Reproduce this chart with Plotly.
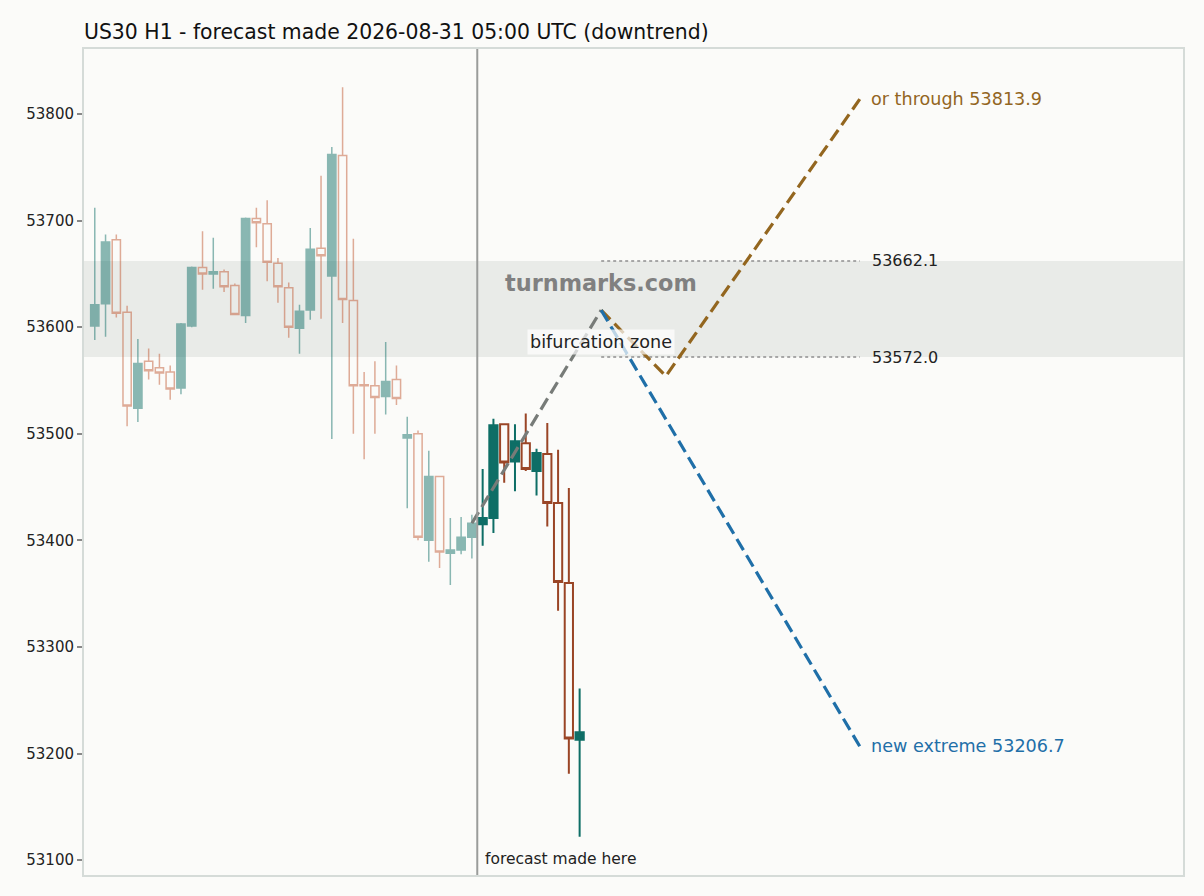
import plotly.graph_objects as go

# hourly candles, index 0..35 = history before the forecast, 36..45 = after
opens = [53601, 53622, 53682, 53614, 53524, 53568, 53562, 53558, 53543, 53601,
         53656, 53650, 53652, 53639, 53611, 53702, 53697, 53660, 53637, 53599,
         53616, 53674, 53648, 53761, 53625, 53546, 53545, 53535, 53551, 53496,
         53500, 53400, 53460, 53388, 53391, 53403,
         53415, 53421, 53509, 53474, 53491, 53465, 53481, 53435, 53360, 53213]
highs = [53712, 53687, 53687, 53620, 53589, 53580, 53575, 53564, 53604, 53657,
         53690, 53684, 53654, 53641, 53703, 53712, 53719, 53665, 53642, 53621,
         53693, 53742, 53769, 53825, 53683, 53558, 53568, 53586, 53564, 53516,
         53503, 53484, 53460, 53421, 53422, 53424,
         53467, 53514, 53509, 53509, 53519, 53486, 53510, 53485, 53449, 53261]
lows = [53588, 53591, 53609, 53507, 53511, 53551, 53546, 53532, 53537, 53600,
        53635, 53636, 53633, 53612, 53604, 53675, 53643, 53623, 53590, 53575,
        53607, 53608, 53495, 53604, 53500, 53476, 53500, 53518, 53527, 53430,
        53400, 53380, 53374, 53358, 53387, 53383,
        53395, 53407, 53454, 53446, 53465, 53442, 53413, 53334, 53181, 53122]
closes = [53621, 53680, 53613, 53526, 53566, 53559, 53557, 53542, 53603, 53656,
          53650, 53652, 53638, 53612, 53702, 53698, 53661, 53638, 53600, 53615,
          53673, 53667, 53762, 53626, 53545, 53545, 53534, 53549, 53533, 53499,
          53403, 53460, 53389, 53391, 53403, 53416,
          53421, 53508, 53473, 53493, 53467, 53482, 53435, 53361, 53214, 53220]
n_hist = 36
forecast_at = 35.5

# forecast path
path_x = [35, 47]
path_y = [53416, 53616]
up_x = [47, 53, 71]
up_y = [53616, 53554, 53813.9]
down_x = [47, 71]
down_y = [53616, 53206.7]
zone_lo = 53572.0
zone_hi = 53662.1

teal = "#0e6e66"
rust = "#9a4526"
bg = "#fbfbf9"
brown = "#93661f"
blue = "#1f6fa8"

idx = list(range(len(opens)))

fig = go.Figure()

# history candles (faded)
fig.add_trace(go.Candlestick(
    x=idx[:n_hist], open=opens[:n_hist], high=highs[:n_hist],
    low=lows[:n_hist], close=closes[:n_hist],
    increasing=dict(line=dict(color=teal, width=1.5), fillcolor=teal),
    decreasing=dict(line=dict(color="#c0552e", width=1.5), fillcolor="rgba(0,0,0,0)"),
    opacity=0.48, showlegend=False, hoverinfo="skip",
))
# candles after the forecast
fig.add_trace(go.Candlestick(
    x=idx[n_hist:], open=opens[n_hist:], high=highs[n_hist:],
    low=lows[n_hist:], close=closes[n_hist:],
    increasing=dict(line=dict(color=teal, width=2), fillcolor=teal),
    decreasing=dict(line=dict(color=rust, width=2), fillcolor="rgba(0,0,0,0)"),
    showlegend=False, hoverinfo="skip",
))

# dotted zone edges
for lvl in [zone_hi, zone_lo]:
    fig.add_trace(go.Scatter(x=[47, 71], y=[lvl, lvl], mode="lines",
                             line=dict(color="#8f8f8f", width=1.5, dash="dot"),
                             showlegend=False, hoverinfo="skip"))

dash = "13px,6px"
fig.add_trace(go.Scatter(x=path_x, y=path_y, mode="lines",
                         line=dict(color="#777b78", width=3.2, dash=dash),
                         showlegend=False, hoverinfo="skip"))
fig.add_trace(go.Scatter(x=up_x, y=up_y, mode="lines",
                         line=dict(color=brown, width=3.2, dash=dash),
                         showlegend=False, hoverinfo="skip"))
fig.add_trace(go.Scatter(x=down_x, y=down_y, mode="lines",
                         line=dict(color=blue, width=3.2, dash=dash),
                         showlegend=False, hoverinfo="skip"))

# shaded bifurcation band
fig.add_shape(type="rect", xref="paper", x0=0, x1=1, y0=zone_lo, y1=zone_hi,
              fillcolor="#e9ebe8", line=dict(width=0), layer="below")
# forecast time marker
fig.add_shape(type="line", x0=forecast_at, x1=forecast_at, yref="paper", y0=0, y1=1,
              line=dict(color="#9a9c9a", width=2))

fig.add_annotation(x=forecast_at, y=0, yref="paper", text="forecast made here",
                   showarrow=False, xanchor="left", yanchor="bottom", xshift=6, yshift=5,
                   font=dict(size=15.5, color="#222222"))
fig.add_annotation(x=47, y=53641, text="<b>turnmarks.com</b>", showarrow=False,
                   font=dict(size=22.4, color="#808080"))
fig.add_annotation(x=47, y=53586, text="bifurcation zone", showarrow=False,
                   bgcolor="rgba(255,255,255,0.7)", borderpad=2,
                   font=dict(size=17.6, color="#222222"))
fig.add_annotation(x=71, y=zone_hi, text=f"{zone_hi:.1f}", showarrow=False,
                   xanchor="left", xshift=10, font=dict(size=16, color="#222222"))
fig.add_annotation(x=71, y=zone_lo, text=f"{zone_lo:.1f}", showarrow=False,
                   xanchor="left", xshift=10, font=dict(size=16, color="#222222"))
fig.add_annotation(x=71, y=up_y[-1], text=f"or through {up_y[-1]:.1f}", showarrow=False,
                   xanchor="left", xshift=9, font=dict(size=17.6, color=brown))
fig.add_annotation(x=71, y=down_y[-1], text=f"new extreme {down_y[-1]:.1f}", showarrow=False,
                   xanchor="left", xshift=9, font=dict(size=17.6, color=blue))

fig.update_layout(
    width=1204, height=896,
    margin=dict(l=84, r=21, t=49, b=21),
    paper_bgcolor=bg, plot_bgcolor=bg,
    boxgap=0.15, boxgroupgap=0.1,
    font=dict(family="DejaVu Sans", color="#222222"),
    title=dict(text="US30 H1 - forecast made 2026-08-31 05:00 UTC (downtrend)",
               x=0, xref="paper", xanchor="left", y=1 - 32 / 896, yanchor="middle",
               font=dict(size=20.4, color="#111111")),
)
fig.update_xaxes(range=[-1, 101], showticklabels=False, ticks="", showgrid=False,
                 zeroline=False, rangeslider=dict(visible=False),
                 showline=True, mirror=True, linecolor="#d5dbd8", linewidth=2)
fig.update_yaxes(range=[53086, 53861], tickvals=[53100 + 100 * i for i in range(8)],
                 tickformat="d",
                 ticks="outside", ticklen=5, tickcolor="#888888", tickwidth=1.5,
                 tickfont=dict(size=15, color="#222222"), showgrid=False, zeroline=False,
                 showline=True, mirror=True, linecolor="#d5dbd8", linewidth=2)

fig.write_html("out.html", config={"displayModeBar": False},
               post_script="document.body.style.margin='0';"
                           "document.body.style.background='#fbfbf9';")
